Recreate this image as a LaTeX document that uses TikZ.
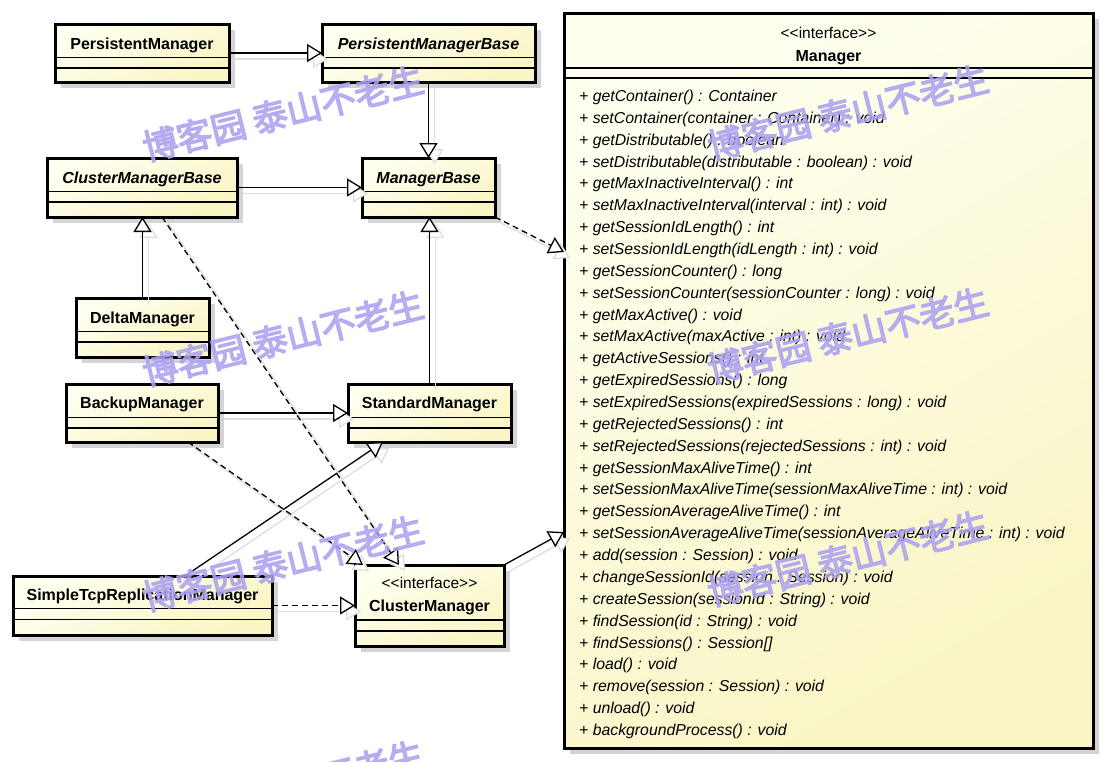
\documentclass[tikz,border=0pt]{standalone}
\usepackage{fontspec}
\setmainfont{Liberation Sans}
\newfontfamily\cjk{Noto Sans CJK SC}[FakeBold=4]
\usetikzlibrary{arrows.meta}
\definecolor{fillA}{RGB}{255,255,240}
\definecolor{fillB}{RGB}{249,245,196}
\definecolor{shadowg}{RGB}{212,212,212}
\definecolor{lineshadow}{RGB}{222,222,222}
\definecolor{wm}{RGB}{172,162,240}
\tikzset{
 classbox/.style={draw=black, line width=3pt, inner sep=0pt, outer sep=0pt, top color=fillA, bottom color=fillB, shading angle=30},
 boxshadow/.style={fill=shadowg},
 cname/.style={font=\fontsize{16}{19}\selectfont\bfseries, anchor=base, inner sep=0pt},
 aname/.style={font=\fontsize{16}{19}\selectfont\bfseries\itshape, anchor=base, inner sep=0pt},
 stereo/.style={font=\fontsize{15.5}{18}\selectfont, anchor=base, inner sep=0pt},
 optext/.style={font=\fontsize{15.8}{19}\selectfont\itshape, anchor=base west, inner sep=0pt},
 cline/.style={line width=1.3pt},
 gen/.style={line width=1.3pt, -{Triangle[length=15pt,width=18pt,fill=white,line width=1.3pt]}},
 real/.style={gen, dash pattern=on 6pt off 4pt},
 lshadow/.style={draw=lineshadow, solid, -{Triangle[length=15pt,width=18pt,fill=white,line width=1.3pt]}},
 watermark/.style={font=\cjk\fontsize{35}{35}\selectfont, text=wm, rotate=14, opacity=0.8, inner sep=0pt},
}
\newcommand\umlbox[5]{%
  \fill[boxshadow] (#2+6,#3+6) rectangle (#4+6,#5+6);
  \node[classbox, minimum width={#4-#2}, minimum height={#5-#3}] (#1) at ({(#2+#4)/2},{(#3+#5)/2}) {};}
\newcommand\comp[3]{%
  \draw[cline] ([yshift=-#2pt]#1.north west) -- ([yshift=-#2pt]#1.north east);
  \draw[cline] ([yshift=-#3pt]#1.north west) -- ([yshift=-#3pt]#1.north east);}
\newcommand\conn[2]{%
  \draw[#1, lshadow, transform canvas={shift={(6pt,-6pt)}}] #2;
  \draw[#1] #2;}
\begin{document}
\begin{tikzpicture}[x=1pt,y=-1pt]
\fill[white] (0,0) rectangle (1106,761);
\useasboundingbox (0,0) rectangle (1106,761);
\clip (0,0) rectangle (1106,761);

% classes
\umlbox{pm}{55}{24}{229}{82}
\umlbox{pmb}{322}{24}{535}{82}
\umlbox{cmb}{47}{158}{237}{217}
\umlbox{mb}{362}{158}{495}{217}
\umlbox{dm}{76}{298}{209}{357}
\umlbox{bm}{66}{384}{218}{442}
\umlbox{sm}{348}{384}{511}{442}
\umlbox{stm}{13}{576}{272}{635}
\umlbox{cm}{355}{565}{504}{646}
\umlbox{mgr}{564}{13}{1093}{748}

\comp{pm}{33.5}{44}
\comp{pmb}{33.5}{44}
\comp{cmb}{33.5}{44}
\comp{mb}{33.5}{44}
\comp{dm}{33.5}{44}
\comp{bm}{33.5}{44}
\comp{sm}{33.5}{44}
\comp{stm}{32.5}{43.5}
\comp{cm}{55}{66}
\comp{mgr}{55}{65}

\node[cname] (pm-n) at (142,49) {PersistentManager};
\node[aname] (pmb-n) at (428.5,49) {PersistentManagerBase};
\node[aname] (cmb-n) at (142,183) {ClusterManagerBase};
\node[aname] (mb-n) at (428.5,183) {ManagerBase};
\node[cname] (dm-n) at (142.5,323) {DeltaManager};
\node[cname] (bm-n) at (142,408) {BackupManager};
\node[cname] (sm-n) at (429.5,408) {StandardManager};
\node[cname] (stm-n) at (142.5,600) {SimpleTcpReplicationManager};
\node[stereo] (cm-s) at (429.5,588) {<\kern0pt<interface>\kern0pt>};
\node[cname] (cm-n) at (429.5,611) {ClusterManager};
\node[stereo] (mgr-s) at (828.5,38) {<\kern0pt<interface>\kern0pt>};
\node[cname] (mgr-n) at (828.5,61) {Manager};

\foreach \t [count=\i from 0] in {
 {getContainer() : Container},
 {setContainer(container : Container) : void},
 {getDistributable() : boolean},
 {setDistributable(distributable : boolean) : void},
 {getMaxInactiveInterval() : int},
 {setMaxInactiveInterval(interval : int) : void},
 {getSessionIdLength() : int},
 {setSessionIdLength(idLength : int) : void},
 {getSessionCounter() : long},
 {setSessionCounter(sessionCounter : long) : void},
 {getMaxActive() : void},
 {setMaxActive(maxActive : int) : void},
 {getActiveSessions() : int},
 {getExpiredSessions() : long},
 {setExpiredSessions(expiredSessions : long) : void},
 {getRejectedSessions() : int},
 {setRejectedSessions(rejectedSessions : int) : void},
 {getSessionMaxAliveTime() : int},
 {setSessionMaxAliveTime(sessionMaxAliveTime : int) : void},
 {getSessionAverageAliveTime() : int},
 {setSessionAverageAliveTime(sessionAverageAliveTime : int) : void},
 {add(session : Session) : void},
 {changeSessionId(session : Session) : void},
 {createSession(sessionId : String) : void},
 {findSession(id : String) : void},
 {findSessions() : Session[]},
 {load() : void},
 {remove(session : Session) : void},
 {unload() : void},
 {backgroundProcess() : void}}
 \node[optext] (op\i) at (579,{101.5+\i*21.86}) {+ \t};

% connectors
\conn{gen}{(pm.east) -- (pmb.west)}
\conn{gen}{(pmb.south) -- (mb.north)}
\conn{gen}{(cmb.east) -- (mb.west)}
\conn{gen}{(dm.north) -- (dm.north |- cmb.south)}
\conn{gen}{(sm.north) -- (sm.north |- mb.south)}
\conn{gen}{(bm.east) -- (sm.west)}
\conn{gen}{([xshift=42.5pt]stm.north) -- ([xshift=-46.5pt]sm.south)}
\conn{real}{(stm.east) -- (cm.west)}
\conn{real}{([xshift=46pt]bm.south) -- ([xshift=-66.5pt]cm.north)}
\conn{real}{([xshift=20pt]cmb.south) -- ([xshift=-30.5pt]cm.north)}
\conn{real}{(mb.south east) -- ([yshift=-239pt]mgr.north west)}
\conn{gen}{(cm.north east) -- ([yshift=-519pt]mgr.north west)}

% watermarks
\node[watermark] (wm1) at (283,113) {博客园 泰山不老生};
\node[watermark] (wm2) at (848,112) {博客园 泰山不老生};
\node[watermark] (wm3) at (283,338) {博客园 泰山不老生};
\node[watermark] (wm4) at (848,335) {博客园 泰山不老生};
\node[watermark] (wm5) at (283,563) {博客园 泰山不老生};
\node[watermark] (wm6) at (848,558) {博客园 泰山不老生};
\node[watermark] (wm7) at (283,788) {博客园 泰山不老生};
\end{tikzpicture}
\end{document}
